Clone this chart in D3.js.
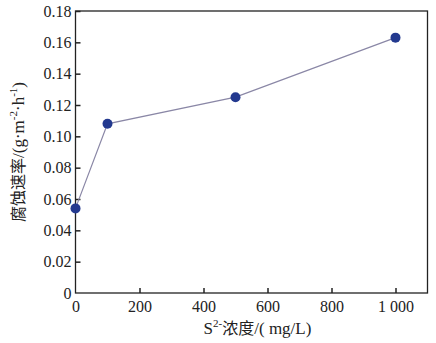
<!DOCTYPE html>
<html>
<head>
<meta charset="utf-8">
<script src="https://cdn.jsdelivr.net/npm/d3@7"></script>
<style>
  body { margin: 0; background: #fff; }
  svg { display: block; }
  text { font-family: "Liberation Serif", "Times New Roman", serif; fill: #222; }
</style>
</head>
<body>
<svg></svg>
<script>
// S2- concentration (mg/L) vs corrosion rate
const concentration = [0, 100, 500, 1000];
const corrosionRate = [0.054, 0.108, 0.125, 0.163];
const xTicks = [0, 200, 400, 600, 800, 1000];
const yTicks = [0, 0.02, 0.04, 0.06, 0.08, 0.10, 0.12, 0.14, 0.16, 0.18];

const s = { width: 436, height: 343 };
const m = { left: 75.5, right: 8.5, top: 11, bottom: 50 };

window.onload = () => {
  const svg = d3.select('svg')
      .attr('width', s.width)
      .attr('height', s.height);

  const x = d3.scaleLinear().domain([0, 1100]).range([m.left, s.width - m.right]);
  const y = d3.scaleLinear().domain([0, 0.18]).range([s.height - m.bottom, m.top]);

  const fmtX = d => d >= 1000 ? '1 000' : String(d);
  const fmtY = d => d === 0 ? '0' : d3.format('.2f')(d);

  // frame
  svg.append('rect')
      .attr('x', x(0)).attr('y', y(0.18))
      .attr('width', x(1100) - x(0)).attr('height', y(0) - y(0.18))
      .attr('fill', 'none').attr('stroke', '#222').attr('stroke-width', 1.3);

  const xAxis = svg.append('g')
      .attr('transform', `translate(0,${y(0)})`)
      .call(d3.axisBottom(x).tickValues(xTicks).tickFormat(fmtX).tickSizeInner(-5).tickSizeOuter(0).tickPadding(8));
  const yAxis = svg.append('g')
      .attr('transform', `translate(${x(0)},0)`)
      .call(d3.axisLeft(y).tickValues(yTicks).tickFormat(fmtY).tickSizeInner(-5).tickSizeOuter(0).tickPadding(4));

  [xAxis, yAxis].forEach(g => {
    g.select('.domain').remove();
    g.selectAll('line').attr('stroke', '#222').attr('stroke-width', 1.5);
    g.selectAll('text').attr('font-size', 16).attr('fill', '#222')
        .style('font-family', '"Liberation Serif", serif');
  });
  // zero ticks sit on the corner
  yAxis.selectAll('.tick').filter(d => d === 0).select('line').remove();
  xAxis.selectAll('.tick').filter(d => d === 0).select('line').remove();

  // line + points
  const pts = concentration.map((c, i) => [c, corrosionRate[i]]);
  svg.append('path')
      .datum(pts)
      .attr('fill', 'none')
      .attr('stroke', '#8a87a6')
      .attr('stroke-width', 1.2)
      .attr('d', d3.line().x(d => x(d[0])).y(d => y(d[1])));

  svg.selectAll('circle.pt')
    .data(pts)
    .enter().append('circle')
      .attr('class', 'pt')
      .attr('cx', d => x(d[0]))
      .attr('cy', d => y(d[1]))
      .attr('r', 5)
      .attr('fill', '#23398f');

  // axis titles
  const xt = svg.append('text')
      .attr('x', (x(0) + x(1100)) / 2 + 6)
      .attr('y', 334)
      .attr('text-anchor', 'middle')
      .attr('font-size', 17);
  xt.append('tspan').text('S');
  xt.append('tspan').attr('font-size', 11).attr('dy', -7).text('2-');
  xt.append('tspan').attr('dy', 7).style('font-family', '"Noto Sans CJK SC"').attr('font-size', 16).text('浓度');
  xt.append('tspan').text('/( mg/L)');

  const yt = svg.append('text')
      .attr('transform', `translate(24,${(y(0) + y(0.18)) / 2}) rotate(-90)`)
      .attr('text-anchor', 'middle')
      .attr('font-size', 17);
  yt.append('tspan').style('font-family', '"Noto Sans CJK SC"').attr('font-size', 16).text('腐蚀速率');
  yt.append('tspan').text('/(g·m');
  yt.append('tspan').attr('font-size', 11).attr('dy', -7).text('-2');
  yt.append('tspan').attr('dy', 7).text('·h');
  yt.append('tspan').attr('font-size', 11).attr('dy', -7).text('-1');
  yt.append('tspan').attr('dy', 7).text(')');
};
</script>
</body>
</html>
